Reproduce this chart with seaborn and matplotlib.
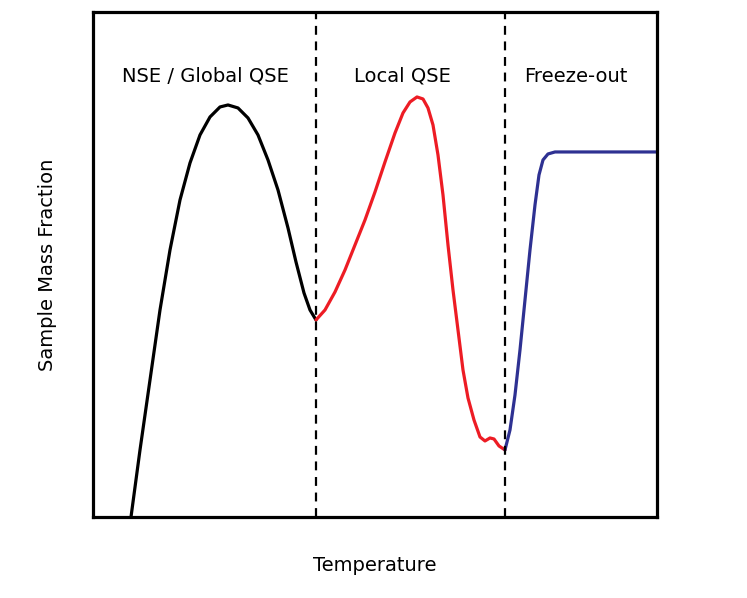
import pandas as pd
import matplotlib.pyplot as plt
import seaborn as sns
import numpy as np

# Values, in pixels of the original plot box
# (x: temperature, y: mass fraction), rescaled to 0-1 below
nse_px = [131, 140, 150, 160, 170, 180, 190, 200, 210, 220, 228, 238, 248, 258, 268, 278, 288, 296, 304, 310, 316]
nse_py = [517, 450, 380, 310, 250, 200, 163, 135, 117, 107, 105, 108, 118, 135, 160, 190, 228, 262, 293, 310, 320]

qse_px = [316, 325, 335, 345, 355, 365, 375, 385, 395, 403, 410, 417, 423, 428, 433, 438, 443, 448, 453, 458,
          463, 468, 474, 480, 485, 490, 494, 499, 505]
qse_py = [320, 310, 292, 270, 245, 220, 192, 162, 133, 113, 102, 97, 99, 108, 125, 155, 195, 245, 290, 330,
          370, 398, 420, 437, 441, 438, 439, 446, 450]

fo_px = [505, 510, 515, 520, 525, 530, 535, 539, 543, 548, 555, 657]
fo_py = [450, 430, 395, 350, 300, 250, 205, 175, 160, 154, 152, 152]

boundaries_px = [316, 505]
regions = ["NSE / Global QSE", "Local QSE", "Freeze-out"]
region_px = [205, 402, 576]


def to_x(px):
    return (np.array(px) - 93) / 564


def to_y(py):
    return (517 - np.array(py)) / 505


df = pd.concat([
    pd.DataFrame({"T": to_x(nse_px), "X": to_y(nse_py), "phase": regions[0]}),
    pd.DataFrame({"T": to_x(qse_px), "X": to_y(qse_py), "phase": regions[1]}),
    pd.DataFrame({"T": to_x(fo_px), "X": to_y(fo_py), "phase": regions[2]}),
])

sns.set_theme(style="white")
plt.rcParams['font.family'] = ['DejaVu Sans']
plt.rcParams['text.color'] = 'black'
plt.rcParams['axes.labelcolor'] = 'black'

fig = plt.figure(figsize=(7.47, 5.98), dpi=100)
ax = fig.add_axes([0.1245, 0.1355, 0.755, 0.8445])

colors = {regions[0]: "black", regions[1]: "#ed1c24", regions[2]: "#2e3192"}
sns.lineplot(data=df, x="T", y="X", hue="phase", palette=colors, sort=False,
             estimator=None, linewidth=2.3, legend=False, ax=ax)

for b in to_x(boundaries_px):
    ax.axvline(b, color="black", linestyle=(0, (4, 3)), linewidth=1.6)

for name, rx in zip(regions, to_x(region_px)):
    ax.text(rx, 0.873, name, ha="center", va="center", fontsize=14)

ax.set_xlim(0, 1)
ax.set_ylim(0, 1)
ax.set_xticks([])
ax.set_yticks([])
for s in ax.spines.values():
    s.set_linewidth(2.3)
    s.set_color("black")

ax.set_xlabel("Temperature", fontsize=14, labelpad=28)
ax.set_ylabel("Sample Mass Fraction", fontsize=14, labelpad=26)

plt.savefig("out.png", dpi=100)
